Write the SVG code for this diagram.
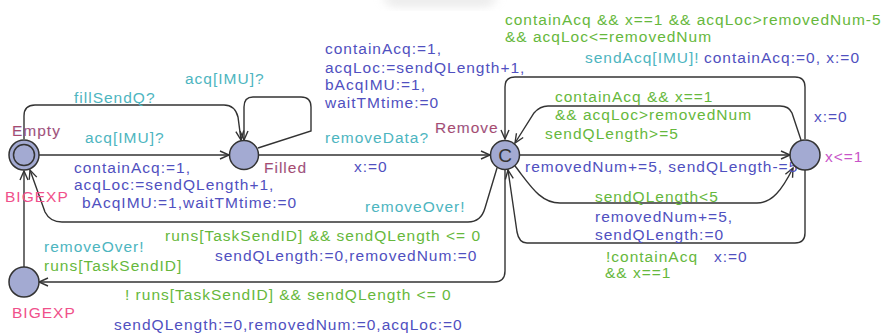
<svg xmlns="http://www.w3.org/2000/svg" width="883" height="335" viewBox="0 0 883 335">
  <style>
    text { font-family: "Liberation Sans", Arial, sans-serif; font-size: 15.5px; letter-spacing: 1px; }
    .loc { fill: #a94a6d; stroke: #7f8fd0; stroke-width: 0.15px; }
    .com { fill: #f0508a; }
    .inv { fill: #c855c8; }
    .sync { fill: #4db5c0; }
    .guard { fill: #66b83c; }
    .upd { fill: #5050c0; }
    .node { fill: #a3aad2; stroke: #333; stroke-width: 1.5; }
    .edge { fill: none; stroke: #333; stroke-width: 1.4; marker-end: url(#arr); }
    .cmark { font-size: 19px; letter-spacing: 0; fill: #333; text-anchor: middle; }
  </style>
  <defs>
    <marker id="arr" markerUnits="userSpaceOnUse" viewBox="-10 -5 12 10" refX="0" refY="0" markerWidth="12" markerHeight="10" orient="auto">
      <path d="M-9,-4 L0,0 L-9,4" fill="none" stroke="#333" stroke-width="1.4"/>
    </marker>
    <filter id="soft" x="-50%" y="-50%" width="200%" height="200%">
      <feGaussianBlur stdDeviation="5"/>
    </filter>
  </defs>

  <rect width="883" height="335" fill="#ffffff"/>
  <!-- faint grey smear along the top edge -->
  <path d="M380,-4 L500,-4 L488,6 L392,6 Z" fill="#d8d8d8" opacity="0.6" filter="url(#soft)"/>

  <!-- connectors -->
  <g id="edges">
    <path class="edge" d="M39,155 H229"/>
    <path class="edge" d="M24,139 V116 Q24,105 35,105 H224 Q235,105 238,117 L241,140"/>
    <path class="edge" d="M258,148 L311,131 V107 Q311,97 301,97 H253 Q244,97 244,107 V140"/>
    <path class="edge" d="M259,155 H490"/>
    <path class="edge" d="M497,168 L485,208 Q481,222 468,222 H62 Q50,222 45,212 L30,170"/>
    <path class="edge" d="M505,170 V271 Q505,282 494,282 H39"/>
    <path class="edge" d="M24,267 V171"/>
    <path class="edge" d="M520,155 H790"/>
    <path class="edge" d="M515,166 C530,185 540,203 560,203 H757 C772,203 782,190 793,168"/>
    <path class="edge" d="M805,170 V233 Q805,243 795,243 H527 Q519,243 517,232 L508,170"/>
    <path class="edge" d="M805,139 V87 Q805,77 795,77 H515 Q505,77 505,87 V139"/>
    <path class="edge" d="M801,140 L792,113 Q789,106 780,106 H548 Q540,106 534,113 L515,143"/>
  </g>

  <!-- edge labels -->
  <g id="edge-labels">
    <text class="sync" x="74" y="103">fillSendQ?</text>
    <text class="sync" x="185" y="84">acq[IMU]?</text>
    <text class="sync" x="85" y="143">acq[IMU]?</text>
    <text class="upd" x="74" y="173">containAcq:=1,</text>
    <text class="upd" x="74" y="190">acqLoc:=sendQLength+1,</text>
    <text class="upd" x="82" y="208">bAcqIMU:=1,waitTMtime:=0</text>

    <text class="upd" x="325" y="54">containAcq:=1,</text>
    <text class="upd" x="325" y="73">acqLoc:=sendQLength+1,</text>
    <text class="upd" x="325" y="90">bAcqIMU:=1,</text>
    <text class="upd" x="325" y="108">waitTMtime:=0</text>
    <text class="sync" x="325" y="143">removeData?</text>
    <text class="upd" x="354" y="172">x:=0</text>
    <text class="sync" x="365" y="212">removeOver!</text>

    <text class="guard" x="505" y="25">containAcq &amp;&amp; x==1 &amp;&amp; acqLoc&gt;removedNum-5</text>
    <text class="guard" x="505" y="42">&amp;&amp; acqLoc&lt;=removedNum</text>
    <text class="sync" x="585" y="63">sendAcq[IMU]!</text>
    <text class="upd" x="704" y="63">containAcq:=0, x:=0</text>
    <text class="guard" x="555" y="102">containAcq &amp;&amp; x==1</text>
    <text class="guard" x="555" y="120">&amp;&amp; acqLoc&gt;removedNum</text>
    <text class="guard" x="545" y="139">sendQLength&gt;=5</text>
    <text class="upd" x="814" y="122">x:=0</text>

    <text class="upd" x="525" y="172">removedNum+=5, sendQLength-=5</text>
    <text class="guard" x="595" y="202">sendQLength&lt;5</text>
    <text class="upd" x="595" y="222">removedNum+=5,</text>
    <text class="upd" x="595" y="240">sendQLength:=0</text>
    <text class="guard" x="606" y="262">!containAcq</text>
    <text class="upd" x="714" y="262">x:=0</text>
    <text class="guard" x="605" y="278">&amp;&amp; x==1</text>

    <text class="sync" x="44" y="252">removeOver!</text>
    <text class="guard" x="44" y="271">runs[TaskSendID]</text>
    <text class="guard" x="165" y="241">runs[TaskSendID] &amp;&amp; sendQLength &lt;= 0</text>
    <text class="upd" x="215" y="261">sendQLength:=0,removedNum:=0</text>
    <text class="guard" x="125" y="300">! runs[TaskSendID] &amp;&amp; sendQLength &lt;= 0</text>
    <text class="upd" x="114" y="330">sendQLength:=0,removedNum:=0,acqLoc:=0</text>
  </g>

  <!-- locations -->
  <g id="Empty">
    <circle class="node" cx="24" cy="155" r="15"/>
    <circle class="node" cx="24" cy="155" r="10.5"/>
    <text class="loc" x="12" y="136">Empty</text>
    <text class="com" x="5" y="202">BIGEXP</text>
  </g>
  <g id="Filled">
    <circle class="node" cx="244" cy="155" r="14.5"/>
    <text class="loc" x="264" y="173">Filled</text>
  </g>
  <g id="Remove">
    <circle class="node" cx="505" cy="155" r="14.5"/>
    <text class="cmark" x="505" y="162">C</text>
    <text class="loc" x="435" y="133">Remove</text>
  </g>
  <g id="Wait">
    <circle class="node" cx="805" cy="155" r="15"/>
    <text class="inv" x="825" y="162">x&lt;=1</text>
  </g>
  <g id="BigExp">
    <circle class="node" cx="24" cy="282" r="15"/>
    <text class="com" x="12" y="318">BIGEXP</text>
  </g>
</svg>
